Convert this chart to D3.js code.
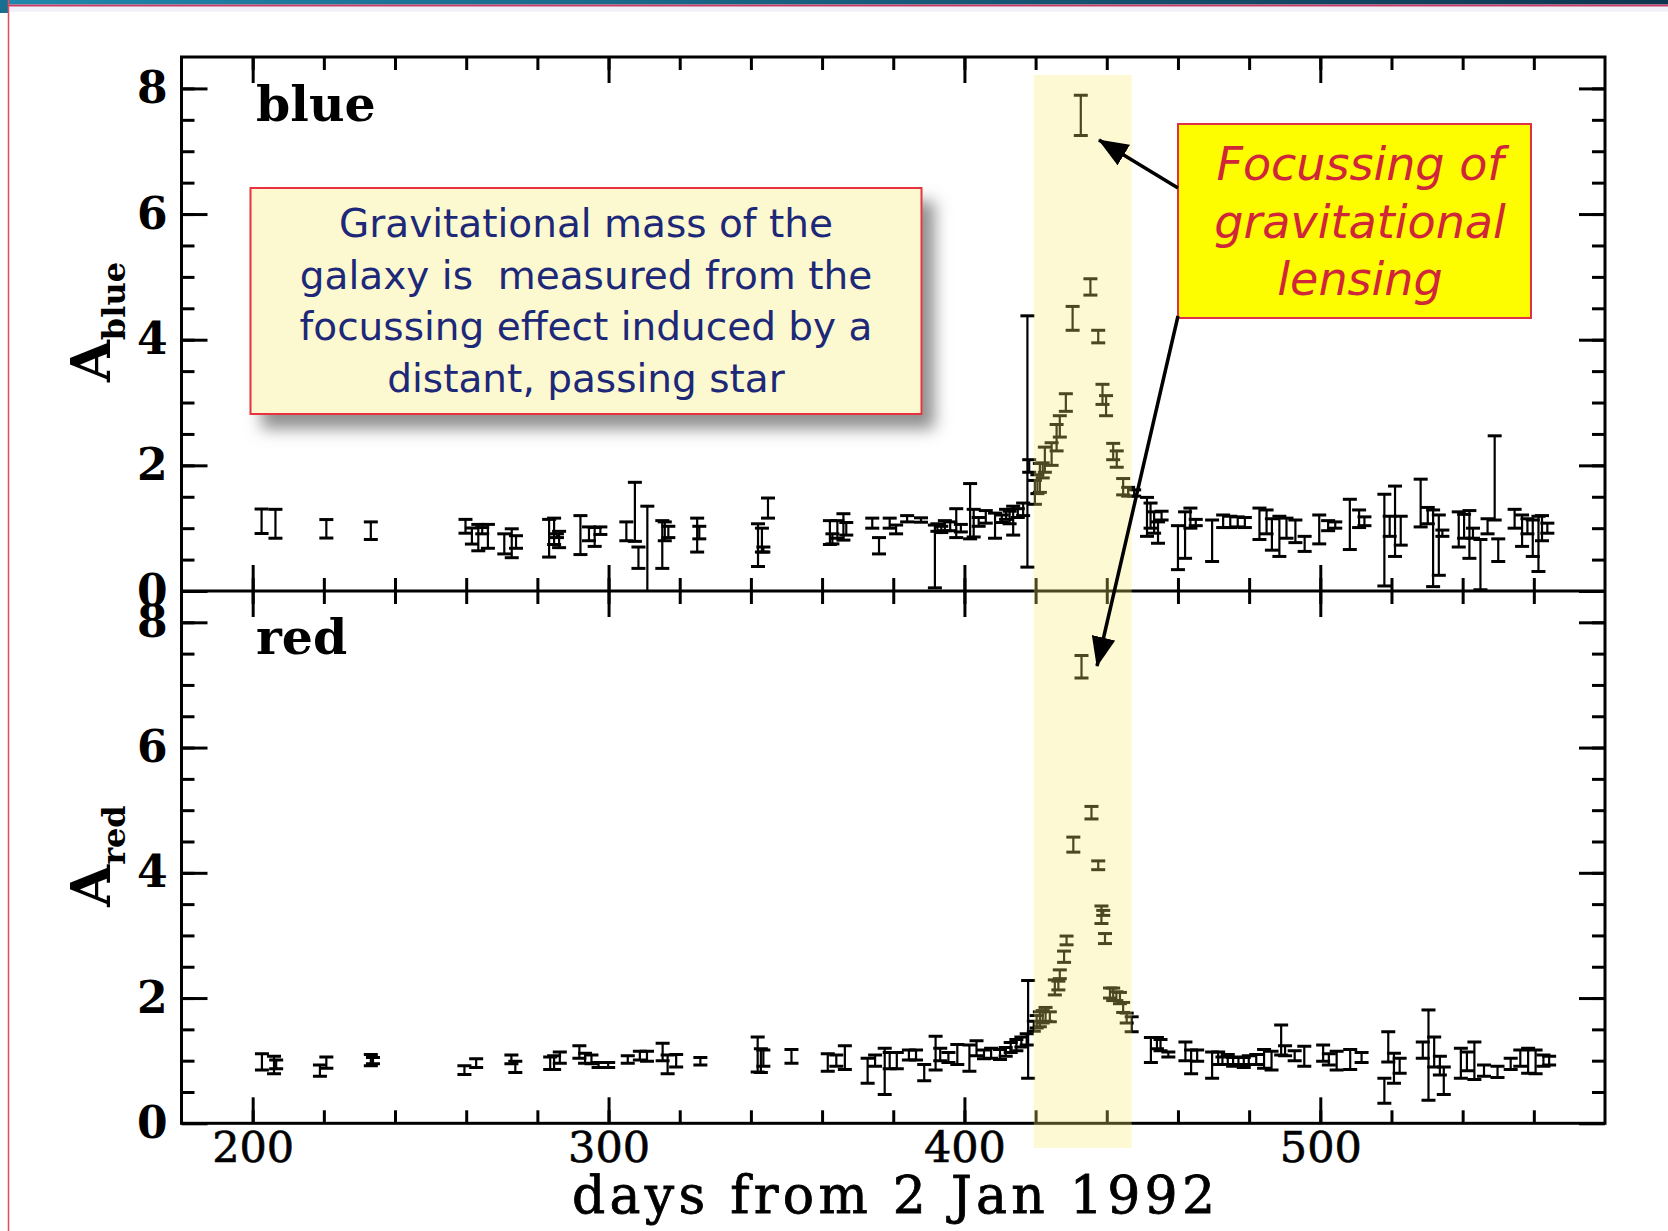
<!DOCTYPE html>
<html>
<head>
<meta charset="utf-8">
<script src="https://cdn.jsdelivr.net/npm/d3@7"></script>
<style>
  html, body { margin: 0; padding: 0; background: #fff; }
  svg { display: block; }
</style>
</head>
<body>
<svg id="chart" width="1668" height="1231"></svg>
<script>
// Light curve: amplification A versus days from 2 Jan 1992, blue and red filters
const blueDay = [202.5,206.4,220.7,233.2,259.8,261.6,263.4,264.5,266.1,270.7,272.8,274.0,283.3,284.7,285.5,286.1,292.1,294.5,296.1,297.7,
  305.0,307.4,308.4,310.9,315.1,315.8,316.8,324.9,325.5,342.0,343.1,343.5,344.8,362.2,362.9,364.3,366.0,366.8,374.1,376.0,
  379.0,380.8,383.9,387.8,391.7,392.4,393.5,394.5,396.0,397.7,399.0,401.6,402.6,404.0,406.0,408.6,410.5,411.7,412.7,413.7,
  415.0,416.5,417.7,418.2,419.8,420.5,421.2,422.0,422.6,424.5,425.9,426.8,428.5,430.4,432.7,435.4,437.6,438.8,439.8,441.8,
  442.8,444.6,446.0,447.7,451.3,452.3,453.3,454.4,455.4,460.0,462.0,463.5,465.0,469.6,472.7,474.7,476.8,478.8,482.9,484.9,
  486.4,488.5,490.5,493.0,495.6,499.7,502.2,504.2,508.3,510.9,512.4,518.0,519.5,521.0,522.6,528.2,530.2,531.7,533.3,534.3,
  538.9,540.4,541.9,542.9,545.0,547.0,549.0,550.0,554.6,556.7,558.2,559.7,561.3,562.3,563.8];
const blueAmp = [1.11,1.07,0.99,0.96,1.03,0.875,0.85,0.96,0.87,0.75,0.76,0.78,0.84,0.95,0.88,0.82,0.89,0.91,0.86,0.96,
  0.95,1.26,0.53,0.55,0.74,0.95,0.94,0.89,0.93,0.73,0.81,0.66,1.32,0.93,0.83,0.98,1.02,0.99,1.08,0.72,
  1.08,0.98,1.15,1.13,0.55,1.01,0.98,1.04,1.03,1.08,1.00,1.27,1.08,1.10,1.18,1.04,1.15,1.22,1.17,1.12,
  1.24,1.30,2.38,1.99,1.57,1.70,1.80,1.92,2.09,2.18,2.44,2.62,3.00,4.34,7.57,4.84,4.05,3.13,2.95,2.22,
  2.10,1.66,1.58,1.56,1.18,1.20,1.09,0.93,1.20,0.69,0.89,1.16,1.09,0.80,1.11,1.10,1.10,1.09,1.07,1.10,
  0.90,0.87,1.00,0.95,0.75,0.98,1.04,1.05,1.06,1.15,1.11,0.81,1.03,1.11,0.96,1.40,1.20,0.68,0.73,0.92,
  0.98,1.03,0.90,0.92,0.42,1.03,1.80,0.65,1.15,0.96,1.03,0.84,0.75,1.00,1.00];
const blueErr = [0.195,0.23,0.147,0.14,0.11,0.128,0.21,0.05,0.19,0.16,0.23,0.10,0.30,0.21,0.03,0.13,0.31,0.11,0.15,0.06,
  0.15,0.47,0.17,0.80,0.38,0.15,0.09,0.27,0.10,0.34,0.19,0.04,0.16,0.19,0.08,0.14,0.21,0.10,0.08,0.13,
  0.08,0.07,0.05,0.035,0.50,0.06,0.05,0.08,0.07,0.23,0.06,0.44,0.22,0.07,0.10,0.20,0.06,0.08,0.10,0.23,
  0.07,0.10,2.00,0.10,0.19,0.15,0.23,0.12,0.20,0.18,0.21,0.17,0.14,0.19,0.32,0.13,0.10,0.16,0.16,0.13,
  0.13,0.13,0.07,0.05,0.31,0.20,0.17,0.17,0.07,0.35,0.37,0.16,0.05,0.33,0.10,0.09,0.08,0.08,0.25,0.19,
  0.25,0.32,0.16,0.18,0.12,0.23,0.08,0.05,0.40,0.14,0.07,0.73,0.16,0.56,0.23,0.38,0.13,0.61,0.48,0.05,
  0.28,0.19,0.38,0.08,0.40,0.12,0.67,0.18,0.15,0.25,0.12,0.29,0.44,0.20,0.08];

const redDay = [202.6,206.0,206.6,218.9,220.7,233.2,233.8,259.5,262.8,272.7,273.8,283.6,284.7,286.3,291.8,293.4,295.2,297.2,299.9,305.4,
  308.8,310.8,315.2,316.6,319.0,325.8,341.9,342.8,343.5,351.4,361.6,364.0,366.4,372.8,374.9,377.6,379.0,381.0,384.4,386.4,
  388.7,391.9,393.2,395.5,398.0,401.4,403.4,405.5,407.5,410.0,411.6,413.0,414.6,416.0,417.5,417.9,419.5,420.3,421.2,422.0,
  422.8,424.0,425.4,426.4,426.8,428.0,428.7,430.6,432.9,435.7,437.6,438.5,439.0,439.5,440.9,441.8,442.7,443.7,444.6,445.6,
  447.0,452.4,454.1,455.1,457.3,462.1,463.7,465.4,469.6,471.3,472.5,474.0,475.5,477.0,478.5,479.9,482.0,484.2,486.3,489.0,
  490.1,492.8,495.5,500.8,502.4,504.6,508.4,511.6,518.0,519.1,520.7,522.3,528.8,530.4,532.0,533.6,534.7,539.5,541.2,543.3,
  546.0,549.8,553.5,556.2,558.4,560.5,562.7,564.3];
const redAmp = [0.98,0.93,0.94,0.84,0.97,1.01,1.00,0.85,0.96,1.02,0.90,0.96,0.97,1.05,1.14,1.04,1.02,0.93,0.93,1.02,
  1.08,1.07,1.14,0.94,1.00,0.99,1.10,1.00,1.04,1.07,0.97,1.00,1.05,0.84,1.00,0.83,1.00,1.00,1.09,1.09,
  0.81,1.12,1.10,1.05,1.10,1.04,1.20,1.10,1.12,1.10,1.14,1.21,1.25,1.30,1.34,1.50,1.55,1.62,1.66,1.70,
  1.74,1.70,2.17,2.20,2.38,2.66,2.92,4.45,7.29,4.96,4.12,3.33,3.36,2.95,2.08,2.06,2.03,2.00,1.85,1.68,
  1.58,1.17,1.28,1.25,1.10,1.15,0.98,1.08,0.93,1.04,1.00,1.02,0.98,1.00,0.97,1.01,1.02,1.03,1.00,1.33,
  1.16,1.08,1.07,1.12,1.02,1.00,1.02,1.05,0.52,1.22,0.88,0.92,1.17,1.09,1.14,0.92,0.68,0.96,0.99,1.00,
  0.84,0.82,0.95,1.04,1.00,0.98,1.00,1.00];
const redErr = [0.13,0.14,0.07,0.09,0.09,0.09,0.05,0.07,0.07,0.07,0.09,0.10,0.11,0.09,0.10,0.08,0.07,0.04,0.04,0.06,
  0.07,0.08,0.14,0.15,0.10,0.06,0.28,0.19,0.13,0.11,0.14,0.09,0.19,0.20,0.09,0.37,0.13,0.13,0.08,0.08,
  0.13,0.27,0.10,0.08,0.16,0.21,0.12,0.07,0.08,0.08,0.07,0.08,0.09,0.08,0.09,0.78,0.08,0.10,0.12,0.10,
  0.11,0.08,0.12,0.07,0.07,0.09,0.07,0.12,0.18,0.10,0.07,0.14,0.04,0.08,0.08,0.10,0.07,0.09,0.08,0.08,
  0.12,0.20,0.09,0.09,0.04,0.15,0.19,0.09,0.21,0.10,0.06,0.08,0.07,0.06,0.08,0.07,0.08,0.15,0.15,0.24,
  0.08,0.08,0.16,0.13,0.09,0.15,0.16,0.08,0.20,0.24,0.24,0.12,0.13,0.72,0.24,0.15,0.22,0.24,0.15,0.30,
  0.09,0.09,0.09,0.13,0.20,0.19,0.09,0.07];

const xMajorTicks = [200, 300, 400, 500];
const xMinorTicks = [200,220,240,260,280,300,320,340,360,380,400,420,440,460,480,500,520,540,560];
const yMajorTicks = [0, 2, 4, 6, 8];
const yMinorTicks = [0.5,1,1.5,2,2.5,3,3.5,4,4.5,5,5.5,6,6.5,7,7.5,8];
const lensingWindow = [419.5, 447.0];

const noteLines = ["Gravitational mass of the", "galaxy is  measured from the",
                   "focussing effect induced by a", "distant, passing star"];
const calloutLines = ["Focussing of", "gravitational", "lensing"];

const svg = d3.select("#chart");
const W = 1668, H = 1231;
const pLeft = 181.5, pRight = 1605, pTop = 57, pMid = 591, pBottom = 1123.3;

const x = d3.scaleLinear().domain([180, 580]).range([pLeft, pRight]);
const yBlue = d3.scaleLinear().domain([0, 8.5]).range([pMid, pTop]);
const yRed = d3.scaleLinear().domain([0, 8.5]).range([pBottom, pMid]);

const defs = svg.append("defs");
const grad = defs.append("linearGradient").attr("id", "hdr").attr("x1", 0).attr("x2", 1);
grad.append("stop").attr("offset", "0%").attr("stop-color", "#1f87ad");
grad.append("stop").attr("offset", "100%").attr("stop-color", "#0d3550");
defs.append("filter").attr("id", "shadow").attr("x", "-10%").attr("y", "-10%")
  .attr("width", "130%").attr("height", "140%")
  .append("feDropShadow").attr("dx", 12).attr("dy", 14).attr("stdDeviation", 8)
  .attr("flood-color", "#6a6a6a").attr("flood-opacity", 0.75);
defs.append("marker").attr("id", "head").attr("viewBox", "0 0 30 24")
  .attr("refX", 29).attr("refY", 12).attr("markerWidth", 30).attr("markerHeight", 24)
  .attr("markerUnits", "userSpaceOnUse").attr("orient", "auto")
  .append("path").attr("d", "M0,0 L30,12 L0,24 Z").attr("fill", "#000");
defs.append("clipPath").attr("id", "clipBlue").append("rect")
  .attr("x", pLeft).attr("y", pTop).attr("width", pRight - pLeft).attr("height", pMid - pTop);
defs.append("clipPath").attr("id", "clipRed").append("rect")
  .attr("x", pLeft).attr("y", pMid).attr("width", pRight - pLeft).attr("height", pBottom - pMid);

// page header strip and left rule
svg.append("rect").attr("x", 0).attr("y", 0).attr("width", W).attr("height", 4.5).attr("fill", "url(#hdr)");
svg.append("rect").attr("x", 0).attr("y", 4.5).attr("width", W).attr("height", 2.2).attr("fill", "#c23c68");
svg.append("rect").attr("x", 0).attr("y", 6.7).attr("width", W).attr("height", 5).attr("fill", "#f1eff8");
svg.append("rect").attr("x", 0).attr("y", 0).attr("width", 8).attr("height", 13).attr("fill", "#1a6f90");
svg.append("line").attr("x1", 8.5).attr("x2", 8.5).attr("y1", 0).attr("y2", H)
  .attr("stroke", "#e84a5a").attr("stroke-width", 1.5);

// error bars
function drawSeries(yScale, clipId, days, amps, errs) {
  const pts = days.map((d, i) => ({ d, a: amps[i], e: errs[i] }));
  const g = svg.append("g").attr("clip-path", `url(#${clipId})`)
    .attr("stroke", "#000").attr("fill", "none");
  const cap = 7;
  const pg = g.selectAll("g").data(pts).join("g");
  pg.append("line")
    .attr("x1", p => x(p.d)).attr("x2", p => x(p.d))
    .attr("y1", p => yScale(p.a - p.e)).attr("y2", p => yScale(p.a + p.e))
    .attr("stroke-width", 2.2);
  pg.append("line")
    .attr("x1", p => x(p.d) - cap).attr("x2", p => x(p.d) + cap)
    .attr("y1", p => yScale(p.a + p.e)).attr("y2", p => yScale(p.a + p.e))
    .attr("stroke-width", 3);
  pg.append("line")
    .attr("x1", p => x(p.d) - cap).attr("x2", p => x(p.d) + cap)
    .attr("y1", p => yScale(p.a - p.e)).attr("y2", p => yScale(p.a - p.e))
    .attr("stroke-width", 3);
}
drawSeries(yBlue, "clipBlue", blueDay, blueAmp, blueErr);
drawSeries(yRed, "clipRed", redDay, redAmp, redErr);

// axes: inward ticks on all four sides of each panel
function tickAxis(axis, transform) {
  const g = svg.append("g").attr("transform", transform).call(axis);
  g.select(".domain").remove();
  g.selectAll("text").remove();
  g.selectAll("line").attr("stroke", "#000").attr("stroke-width", 3);
  return g;
}
[[yBlue, pTop, pMid], [yRed, pMid, pBottom]].forEach(([ys, yT, yB]) => {
  tickAxis(d3.axisTop(x).tickValues(xMinorTicks).tickSize(-13), `translate(0,${yT})`);
  tickAxis(d3.axisTop(x).tickValues(xMajorTicks).tickSize(-26), `translate(0,${yT})`);
  tickAxis(d3.axisBottom(x).tickValues(xMinorTicks).tickSize(-13), `translate(0,${yB})`);
  tickAxis(d3.axisBottom(x).tickValues(xMajorTicks).tickSize(-26), `translate(0,${yB})`);
  tickAxis(d3.axisLeft(ys).tickValues(yMinorTicks).tickSize(-13), `translate(${pLeft},0)`);
  tickAxis(d3.axisLeft(ys).tickValues(yMajorTicks).tickSize(-26), `translate(${pLeft},0)`);
  tickAxis(d3.axisRight(ys).tickValues(yMinorTicks).tickSize(-13), `translate(${pRight},0)`);
  tickAxis(d3.axisRight(ys).tickValues(yMajorTicks).tickSize(-26), `translate(${pRight},0)`);

  const lab = svg.append("g").attr("transform", `translate(${pLeft},0)`)
    .call(d3.axisLeft(ys).tickValues(yMajorTicks).tickSize(0).tickPadding(14).tickFormat(d3.format("d")));
  lab.select(".domain").remove();
  lab.selectAll("text").attr("font-family", "DejaVu Serif").attr("font-weight", "bold")
    .attr("font-size", 44).attr("fill", "#000");
});

// frame
svg.append("rect").attr("x", pLeft).attr("y", pTop).attr("width", pRight - pLeft).attr("height", pBottom - pTop)
  .attr("fill", "none").attr("stroke", "#000").attr("stroke-width", 3);
svg.append("line").attr("x1", pLeft).attr("x2", pRight).attr("y1", pMid).attr("y2", pMid)
  .attr("stroke", "#000").attr("stroke-width", 3);

// x tick labels
const xl = svg.append("g").attr("transform", `translate(0,${pBottom})`)
  .call(d3.axisBottom(x).tickValues(xMajorTicks).tickSize(0).tickPadding(8).tickFormat(d3.format("d")));
xl.select(".domain").remove();
xl.selectAll("text").attr("font-family", "DejaVu Serif").attr("font-size", 43).attr("fill", "#000")
  .attr("stroke", "#000").attr("stroke-width", 0.6);

// axis titles
svg.append("text").attr("x", 893.5).attr("y", 1213).attr("text-anchor", "middle")
  .attr("font-family", "DejaVu Serif").attr("font-size", 52).attr("fill", "#000")
  .attr("stroke", "#000").attr("stroke-width", 0.8)
  .attr("textLength", 643).attr("lengthAdjust", "spacing")
  .text("days from 2 Jan 1992");

function ampTitle(cx, cy, sub) {
  const t = svg.append("text").attr("transform", `translate(${cx},${cy}) rotate(-90)`)
    .attr("text-anchor", "middle").attr("font-family", "DejaVu Serif").attr("font-weight", "bold")
    .attr("fill", "#000");
  t.append("tspan").attr("font-size", 54).text("A");
  t.append("tspan").attr("font-size", 32).attr("dy", 15).text(sub);
}
ampTitle(110, 322, "blue");
ampTitle(110, 856, "red");

svg.append("text").attr("x", 256).attr("y", 121).attr("font-family", "DejaVu Serif")
  .attr("font-weight", "bold").attr("font-size", 49).attr("fill", "#000").text("blue");
svg.append("text").attr("x", 256).attr("y", 654).attr("font-family", "DejaVu Serif")
  .attr("font-weight", "bold").attr("font-size", 49).attr("fill", "#000").text("red");

// lensing window highlight
svg.append("rect").attr("x", x(lensingWindow[0])).attr("y", 75)
  .attr("width", x(lensingWindow[1]) - x(lensingWindow[0])).attr("height", 1148 - 75)
  .attr("fill", "rgb(248,236,110)").attr("fill-opacity", 0.3);

// explanatory note
svg.append("rect").attr("x", 250.5).attr("y", 188).attr("width", 671).attr("height", 226)
  .attr("fill", "#fcf9d0").attr("stroke", "#e8323f").attr("stroke-width", 2)
  .attr("filter", "url(#shadow)");
svg.append("g").selectAll("text").data(noteLines).join("text")
  .attr("x", 586).attr("y", (d, i) => 237 + i * 51.5).attr("text-anchor", "middle")
  .attr("font-family", "DejaVu Sans").attr("font-size", 39).attr("fill", "#1d2878")
  .style("white-space", "pre").text(d => d);

// callout
svg.append("rect").attr("x", 1178).attr("y", 124).attr("width", 353).attr("height", 194)
  .attr("fill", "#fdfd00").attr("stroke", "#e03048").attr("stroke-width", 2);
svg.append("g").selectAll("text").data(calloutLines).join("text")
  .attr("x", 1360).attr("y", (d, i) => 180 + i * 57.5).attr("text-anchor", "middle")
  .attr("font-family", "DejaVu Sans").attr("font-style", "italic").attr("font-size", 46)
  .attr("fill", "#d0263a").text(d => d);

// arrows to the peak in each band
svg.append("line").attr("x1", 1178).attr("y1", 188).attr("x2", 1099).attr("y2", 140)
  .attr("stroke", "#000").attr("stroke-width", 3.5).attr("marker-end", "url(#head)");
svg.append("line").attr("x1", 1178).attr("y1", 316).attr("x2", 1097).attr("y2", 666)
  .attr("stroke", "#000").attr("stroke-width", 3.5).attr("marker-end", "url(#head)");
</script>
</body>
</html>
